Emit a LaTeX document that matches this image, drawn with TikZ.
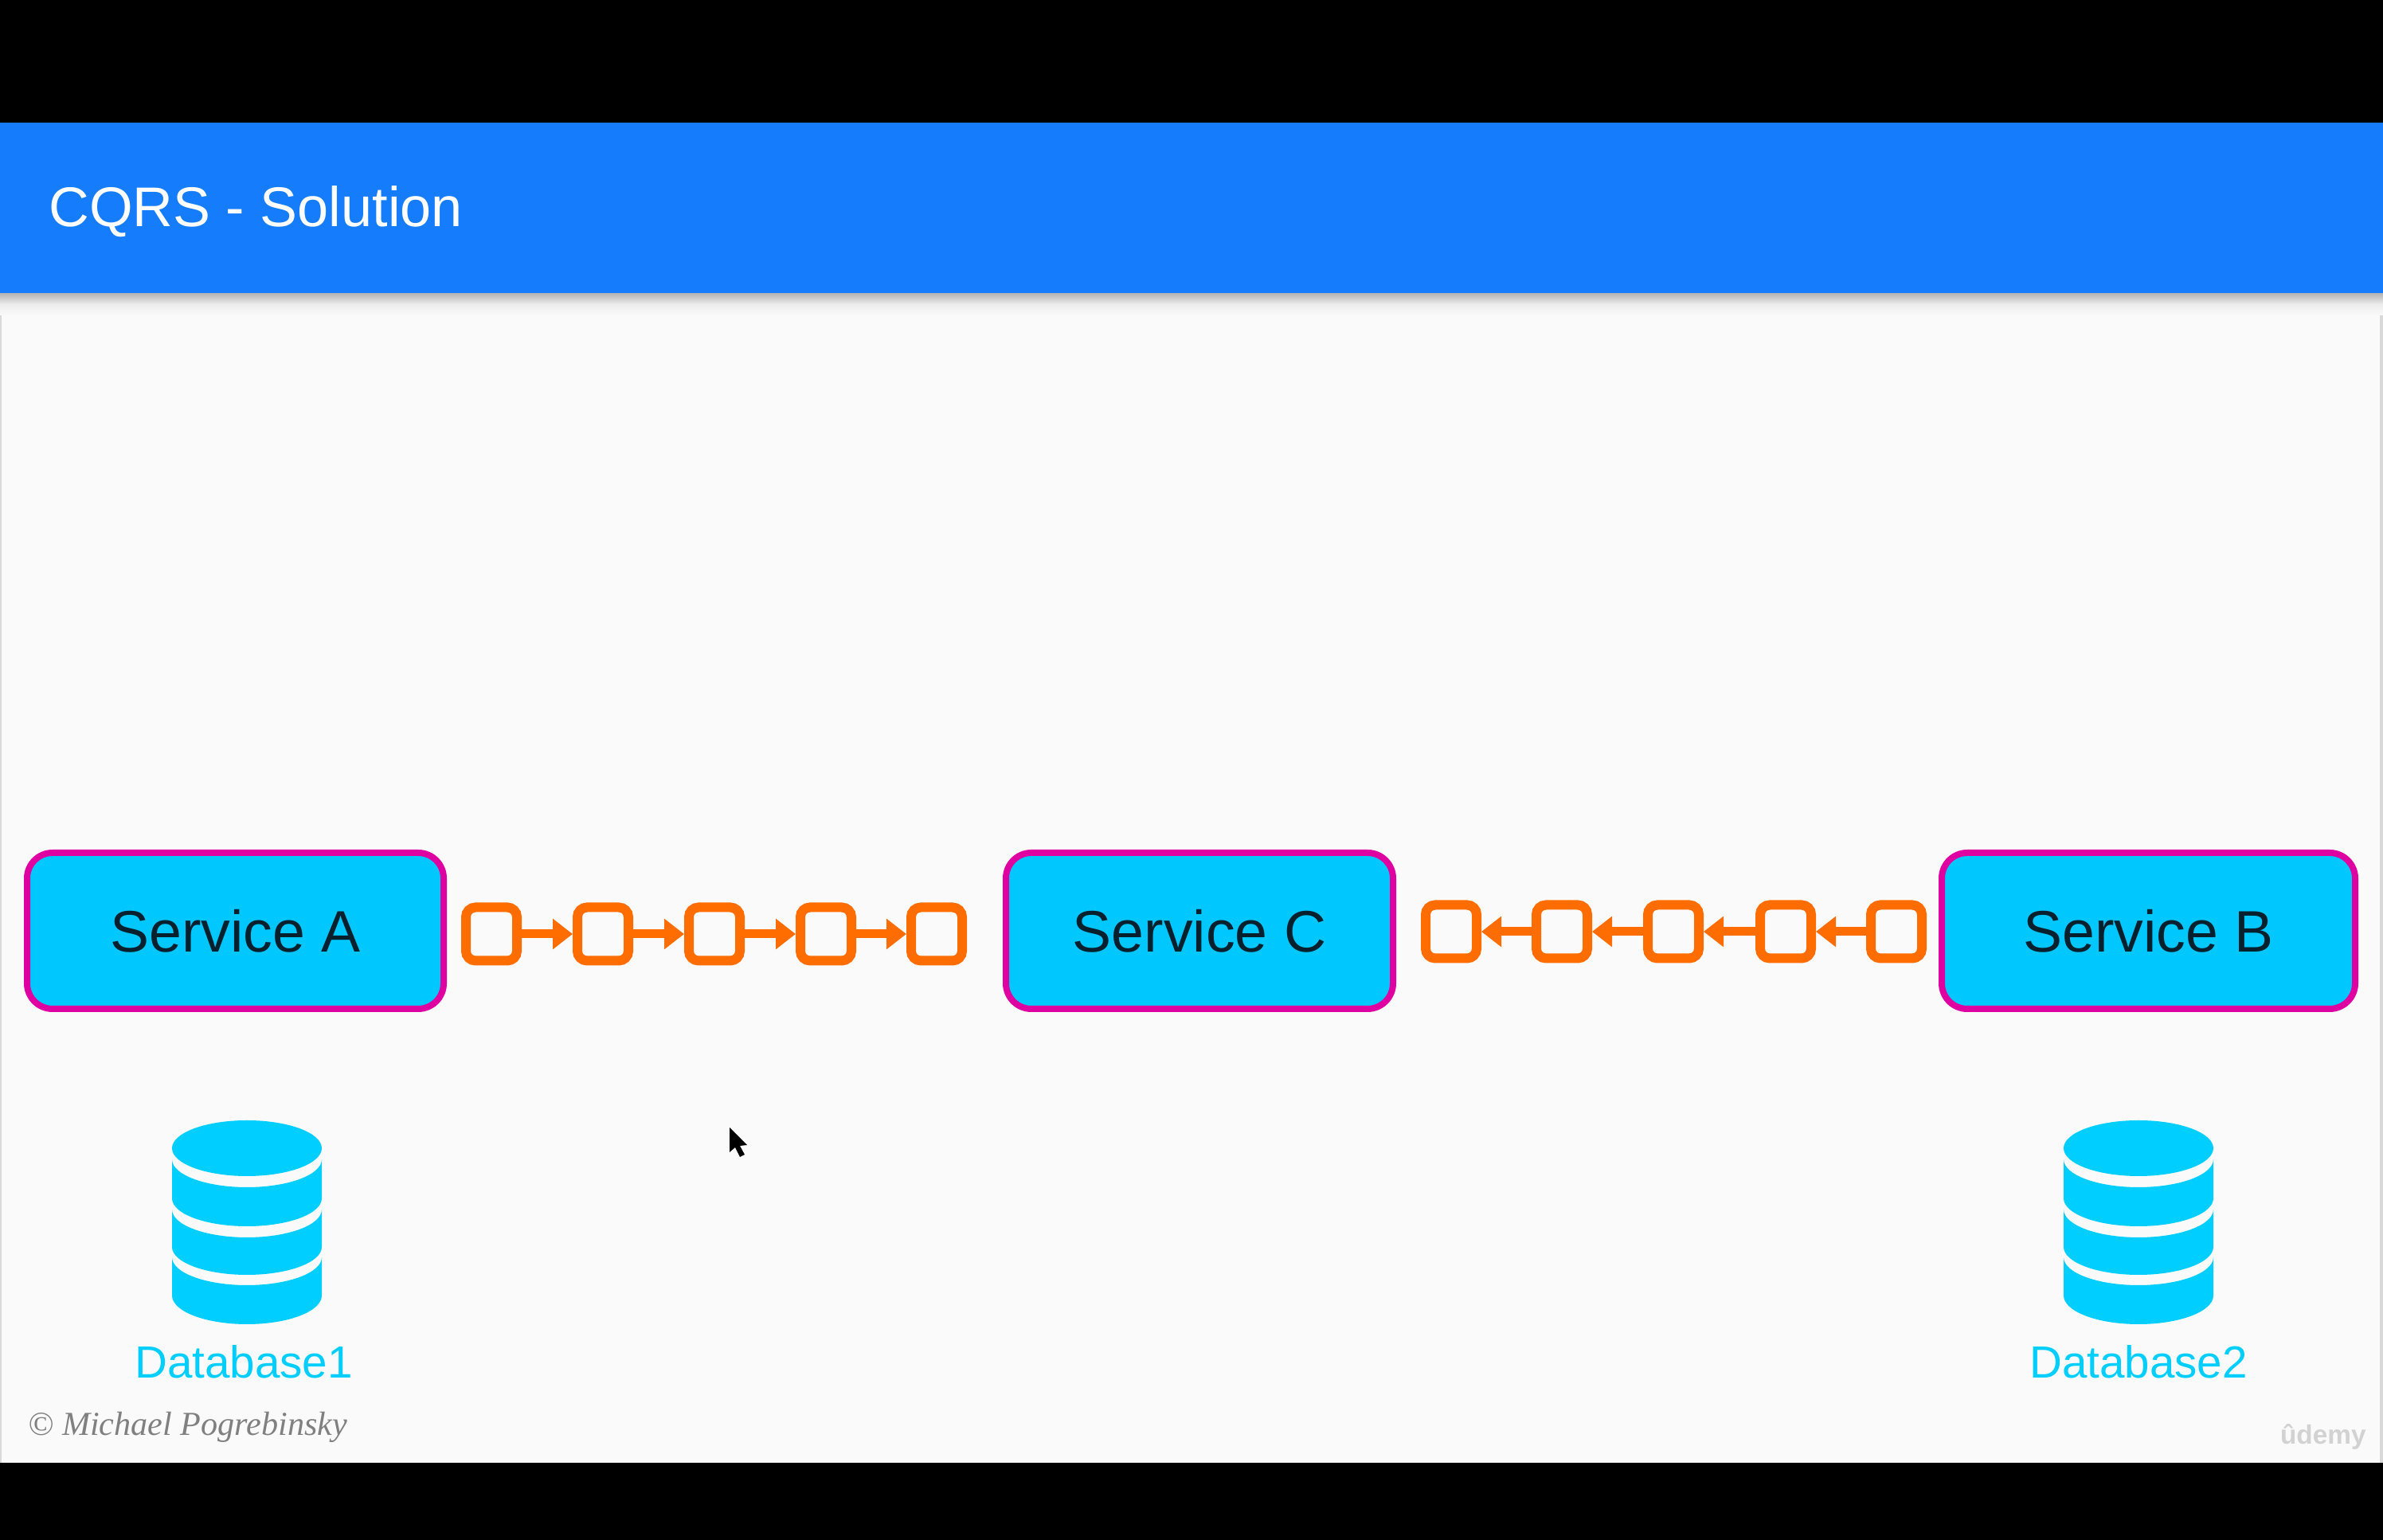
\documentclass[tikz,border=0pt]{standalone}
\usepackage{color}
\usepackage{fontspec}
\setmainfont{Liberation Sans}
\newfontfamily\zcreditfont{Liberation Serif}
\usetikzlibrary{arrows.meta}
\definecolor{zheader}{HTML}{157CFC}
\definecolor{zpage}{HTML}{FAFAFA}
\definecolor{zservice}{HTML}{00C8FF}
\definecolor{zborder}{HTML}{DE00A0}
\definecolor{zqueue}{HTML}{FF6D00}
\definecolor{zdb}{HTML}{00CEFF}
\definecolor{zink}{HTML}{06202E}
\newcommand{\zdbicon}[1]{%
	\begin{scope}[shift={(#1,-.03)},fill=zdb]
	\fill (0,4.95) ellipse (.94 and .35);
	\fill (-.94,4.81) arc (180:360:.94 and .35) -- (.94,4.32) arc (0:-180:.94 and .35) -- cycle;
	\fill (-.94,4.18) arc (180:360:.94 and .35) -- (.94,3.71) arc (0:-180:.94 and .35) -- cycle;
	\fill (-.94,3.58) arc (180:360:.94 and .35) -- (.94,3.10) arc (0:-180:.94 and .36) -- cycle;
	\end{scope}}

\begin{document}
\begin{tikzpicture}[style=thick,scale=1]
			\useasboundingbox (0,0) rectangle (29.92,19.34);
			% page
			\fill[black] (0,0) rectangle (29.92,19.34);
			\fill[zpage] (0,.97) rectangle (29.92,17.80);
			\fill[gray!30] (0,.97) rectangle (.02,15.40);
			\fill[gray!30] (29.88,.97) rectangle (29.92,15.40);
			\shade[top color=gray!60,bottom color=zpage,middle color=gray!15] (0,15.66) rectangle (29.92,15.38);
			\fill[zheader] (0,15.66) rectangle (29.92,17.80);
			\node[anchor=base west,inner sep=0pt,text=white,font=\fontsize{20}{24}\selectfont] (title) at (.60,16.49) {CQRS - Solution};
			% services
			\begin{scope}[shape=rectangle,rounded corners=.32cm,inner sep=0pt]
			\tikzstyle{every node}=[draw=zborder,fill=zservice,line width=.08cm,minimum height=1.96cm,text=zink,font=\fontsize{20.9}{25}\selectfont]
			\node[minimum width=5.23cm] (service_a) at (2.955,7.65) {Service A};
			\node[minimum width=4.86cm] (service_c) at (15.06,7.65) {Service C};
			\node[minimum width=5.19cm] (service_b) at (26.975,7.65) {Service B};
			\end{scope}
			% queues
			\begin{scope}[shape=rectangle,rounded corners=.12cm,inner sep=0pt]
			\tikzstyle{every node}=[draw=zqueue,line width=.12cm,minimum width=.64cm,minimum height=.67cm]
			\node (q_a1) at (6.17,7.61) {};
			\node (q_a2) at (7.57,7.61) {};
			\node (q_a3) at (8.97,7.61) {};
			\node (q_a4) at (10.37,7.61) {};
			\node (q_a5) at (11.76,7.61) {};
			\node (q_b1) at (18.22,7.64) {};
			\node (q_b2) at (19.61,7.64) {};
			\node (q_b3) at (21.01,7.64) {};
			\node (q_b4) at (22.42,7.64) {};
			\node (q_b5) at (23.81,7.64) {};
			\end{scope}
			\tikzstyle{queuearrow}=[draw=zqueue,line width=.11cm,-{Triangle[length=.25cm,width=.37cm]}]
			\draw [queuearrow] (q_a1) -- (q_a2);
			\draw [queuearrow] (q_a2) -- (q_a3);
			\draw [queuearrow] (q_a3) -- (q_a4);
			\draw [queuearrow] (q_a4) -- (q_a5);
			\draw [queuearrow] (q_b5) -- (q_b4);
			\draw [queuearrow] (q_b4) -- (q_b3);
			\draw [queuearrow] (q_b3) -- (q_b2);
			\draw [queuearrow] (q_b2) -- (q_b1);
			% databases
			\zdbicon{3.10}
			\zdbicon{26.85}
			\tikzstyle{dblabel}=[anchor=base,inner sep=0pt,text=zdb,font=\fontsize{16.1}{20}\selectfont]
			\node[dblabel] (db_1) at (3.06,2.03) {Database1};
			\node[dblabel] (db_2) at (26.85,2.03) {Database2};
			% credits
			\node[anchor=base west,inner sep=0pt,text=gray,font=\zcreditfont\itshape\fontsize{12}{14}\selectfont] (credit) at (.34,1.31) {© Michael Pogrebinsky};
			\node[anchor=base east,inner sep=0pt,text=gray!35,font=\bfseries\fontsize{9.5}{12}\selectfont] (udemy) at (29.72,1.20) {ûdemy};
			% cursor
			\fill[black] (9.16,5.18) -- (9.16,4.87) -- (9.23,4.93) -- (9.29,4.81) -- (9.35,4.84) -- (9.29,4.95) -- (9.38,4.96) -- cycle;
		\end{tikzpicture}
\end{document}
